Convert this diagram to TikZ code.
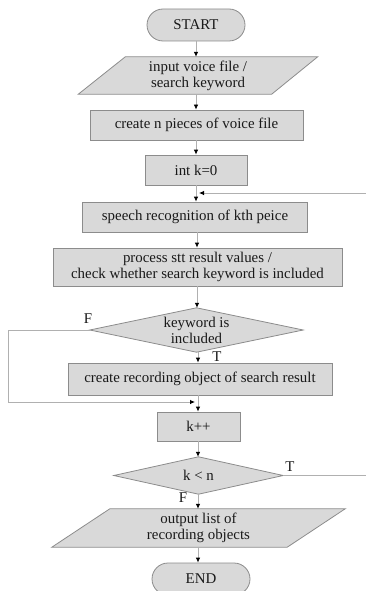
\documentclass[tikz,border=0pt]{standalone}
\usepackage{fontspec}
\setmainfont{Liberation Serif}
\usetikzlibrary{arrows.meta,backgrounds,calc}
\definecolor{boxfill}{HTML}{D9D9D9}
\definecolor{boxline}{HTML}{8C8C8C}
\definecolor{conline}{HTML}{B0B0B0}
\begin{document}
\begin{tikzpicture}[x=1pt,y=-1pt,
  font=\fontsize{14.9}{16}\selectfont,
  base/.style={rectangle,inner sep=0pt,align=center,text=black!90},
  procbox/.style={base,draw=boxline,fill=boxfill,line width=0.8pt},
  termbox/.style={procbox,rounded corners=16pt,minimum width=98pt,minimum height=32pt},
  shapefill/.style={draw=boxline,fill=boxfill,line width=0.8pt},
  arr/.style={draw=conline,line width=0.8pt,-{Latex[length=5pt,width=4.5pt,color=black]}},
  con/.style={draw=conline,line width=0.8pt},
  lbl/.style={inner sep=0pt,text=black!90}]
\useasboundingbox (0,0) rectangle (365,591);
\node[termbox] (start) at (196,25) {START};
\node[base,minimum width=239pt,minimum height=37pt] (in) at (198,75.5) {input voice file /\\search keyword};
\node[procbox,minimum width=213pt,minimum height=30pt] (create) at (196.5,125) {create n pieces of voice file};
\node[procbox,minimum width=102pt,minimum height=30pt] (k0) at (196,170) {int k=0};
\node[procbox,minimum width=225pt,minimum height=30pt] (speech) at (195,217) {speech recognition of kth peice};
\node[procbox,minimum width=289pt,minimum height=38pt] (proc) at (197.5,267) {process stt result values /\\check whether search keyword is included};
\node[base,minimum width=213pt,minimum height=44pt] (kw) at (196.5,330) {keyword is\\included};
\node[procbox,minimum width=264pt,minimum height=32pt] (rec) at (200,379) {create recording object of search result};
\node[procbox,minimum width=83pt,minimum height=29pt] (kpp) at (198.5,426.5) {k++};
\node[base,minimum width=169pt,minimum height=37pt] (kn) at (198.5,475.5) {k < n};
\node[base,minimum width=293pt,minimum height=38pt] (out) at (198.5,528) {output list of\\recording objects};
\node[termbox] (end) at (201,579) {END};
\begin{scope}[on background layer]
\draw[shapefill] ($(in.north west)+(47,0)$) -- (in.north east) -- ($(in.south east)+(-46,0)$) -- (in.south west) -- cycle;
\draw[shapefill] (kw.north) -- (kw.east) -- (kw.south) -- (kw.west) -- cycle;
\draw[shapefill] (kn.north) -- (kn.east) -- (kn.south) -- (kn.west) -- cycle;
\draw[shapefill] ($(out.north west)+(58,0)$) -- (out.north east) -- ($(out.south east)+(-58,0)$) -- (out.south west) -- cycle;
\end{scope}
\coordinate (c1) at (197,0);
\coordinate (c2) at (198,0);
\coordinate (m1) at (196.5,193);
\coordinate (m2) at (198,402);
\draw[arr] (start.south) -- (start.south |- in.north);
\draw[arr] (start.south |- in.south) -- (start.south |- create.north);
\draw[arr] (k0.south |- create.south) -- (k0.south |- k0.north);
\draw[arr] (k0.south) -- (k0.south |- speech.north);
\draw[arr] (c1 |- speech.south) -- (c1 |- proc.north);
\draw[arr] (c1 |- proc.south) -- (c1 |- kw.north);
\draw[arr] (c2 |- kw.south) -- (c2 |- rec.north);
\draw[arr] (c2 |- rec.south) -- (c2 |- kpp.north);
\draw[arr] (c2 |- kpp.south) -- (c2 |- kn.north);
\draw[arr] (c2 |- kn.south) -- (c2 |- out.north);
\draw[arr] (c2 |- out.south) -- (c2 |- end.north);
\draw[arr] (kn.east) -- (367,475.5) |- ($(m1)+(2.5,0)$);
\draw[arr] (kw.west) -- (8,330) |- ($(m2)+(-3,0)$);
\node[lbl] (f1) at (88,319) {F};
\node[lbl] (t1) at (217,357) {T};
\node[lbl] (t2) at (290,467) {T};
\node[lbl] (f2) at (183,498) {F};
\end{tikzpicture}
\end{document}
